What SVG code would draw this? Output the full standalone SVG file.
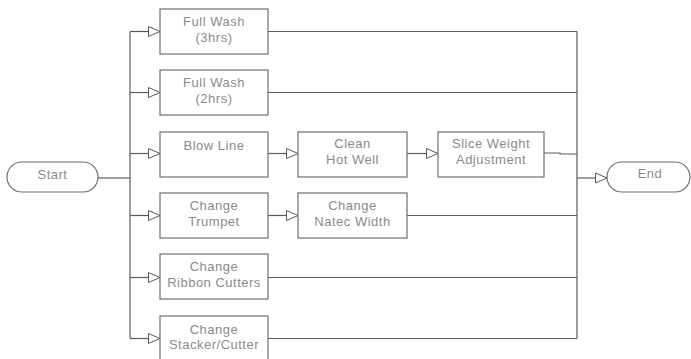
<svg xmlns="http://www.w3.org/2000/svg" width="691" height="359" viewBox="0 0 691 359">
<style>
.bx{fill:#fff;stroke:#6e6e6e;stroke-width:1.2}
.t{font-family:"Liberation Sans",Arial,sans-serif;font-size:13px;fill:#8a8a8a;text-anchor:middle;letter-spacing:0.5px}
.c{fill:none;stroke:#5a5a5a;stroke-width:1.2}
.a{marker-end:url(#ah)}
</style>
<defs>
<marker id="ah" markerUnits="userSpaceOnUse" markerWidth="14" markerHeight="12" refX="12" refY="6" orient="auto">
<path d="M0.5,1 L12,6 L0.5,11 Z" fill="#fff" stroke="#5a5a5a" stroke-width="1"/>
</marker>
</defs>
<rect width="691" height="359" fill="#fff"/>
<g id="connectors">
<path class="c" d="M98,178 H130"/>
<path class="c" d="M130,31.5 V338.5"/>
<path class="c a" d="M130,31.5 H160"/>
<path class="c a" d="M130,92.5 H160"/>
<path class="c a" d="M130,153.5 H160"/>
<path class="c a" d="M130,215.5 H160"/>
<path class="c a" d="M130,277.5 H160"/>
<path class="c a" d="M130,338.5 H160"/>
<path class="c a" d="M268,153.5 H298"/>
<path class="c a" d="M407,153.5 H438"/>
<path class="c a" d="M268,215.5 H298"/>
<path class="c" d="M268,31.5 H577"/>
<path class="c" d="M268,92.5 H577"/>
<path class="c" d="M544,153 H560 V154 H577"/>
<path class="c" d="M407,215.5 H577"/>
<path class="c" d="M268,277.5 H577"/>
<path class="c" d="M268,338.5 H577"/>
<path class="c" d="M577,31.5 V338.5"/>
<path class="c a" d="M577,178 H607"/>
</g>
<g id="start"><rect class="bx" x="7" y="162" width="91" height="30" rx="15"/><text class="t" x="52.5" y="178.5">Start</text></g>
<g id="fullwash3"><rect class="bx" x="160" y="9" width="108" height="45"/><text class="t" x="214" y="25.5">Full Wash</text><text class="t" x="214" y="41.5">(3hrs)</text></g>
<g id="fullwash2"><rect class="bx" x="160" y="70" width="108" height="45"/><text class="t" x="214" y="86.5">Full Wash</text><text class="t" x="214" y="102.5">(2hrs)</text></g>
<g id="blowline"><rect class="bx" x="160" y="132" width="108" height="45"/><text class="t" x="214" y="149.5">Blow Line</text></g>
<g id="cleanhotwell"><rect class="bx" x="298" y="132" width="109" height="45"/><text class="t" x="352.5" y="147.5">Clean</text><text class="t" x="352.5" y="163.5">Hot Well</text></g>
<g id="sliceweight"><rect class="bx" x="438" y="132" width="106" height="45"/><text class="t" x="491" y="147.5">Slice Weight</text><text class="t" x="491" y="163.5">Adjustment</text></g>
<g id="trumpet"><rect class="bx" x="160" y="193" width="108" height="45"/><text class="t" x="214" y="209.5">Change</text><text class="t" x="214" y="225.5">Trumpet</text></g>
<g id="natec"><rect class="bx" x="298" y="193" width="109" height="45"/><text class="t" x="352.5" y="209.5">Change</text><text class="t" x="352.5" y="225.5">Natec Width</text></g>
<g id="ribbon"><rect class="bx" x="160" y="254" width="108" height="45"/><text class="t" x="214" y="270.5">Change</text><text class="t" x="214" y="286.5">Ribbon Cutters</text></g>
<g id="stacker"><rect class="bx" x="160" y="316" width="108" height="45"/><text class="t" x="214" y="333.5">Change</text><text class="t" x="214" y="348.5">Stacker/Cutter</text></g>
<g id="end"><rect class="bx" x="607" y="162" width="83" height="30" rx="15"/><text class="t" x="650" y="178">End</text></g>
</svg>
